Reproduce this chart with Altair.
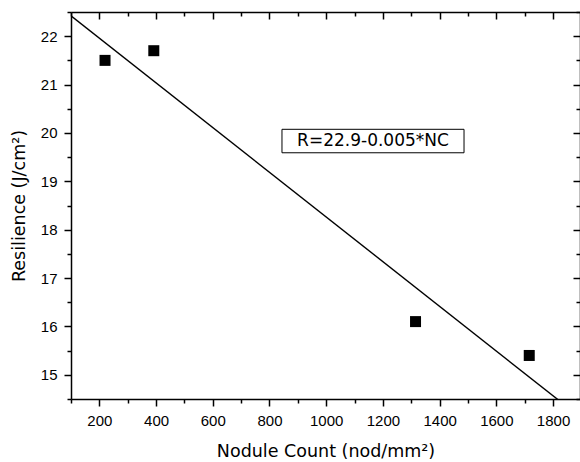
import altair as alt
import pandas as pd

# ---- data ----
nodule_count = [220, 392, 1315, 1716]
resilience = [21.5, 21.7, 16.1, 15.4]

x_major = [200, 400, 600, 800, 1000, 1200, 1400, 1600, 1800]
x_minor = [100, 300, 500, 700, 900, 1100, 1300, 1500, 1700]
y_major = [15, 16, 17, 18, 19, 20, 21, 22]
y_minor = [14.5, 15.5, 16.5, 17.5, 18.5, 19.5, 20.5, 21.5, 22.5]

x_domain = [100, 1895]
y_domain = [14.5, 22.5]

annotation = ["R=22.9-0.005*NC"]

W, H = 509, 387

df = pd.DataFrame({"nc": nodule_count, "r": resilience})
ann = pd.DataFrame({"t": annotation})

xs = alt.Scale(domain=x_domain, nice=False, zero=False)
ys = alt.Scale(domain=y_domain, nice=False, zero=False)

MAJ, MIN = 7, 4


def axis(values, orient, size, offset=0, domain=False, labels=False, title=None, **kw):
    return alt.Axis(values=values, orient=orient, tickSize=size, offset=offset,
                    domain=domain, labels=labels, title=title, grid=False, **kw)


bottom_major = axis(x_major, "bottom", MAJ, domain=True, labels=True, format="d",
                    labelPadding=7, title="Nodule Count (nod/mm²)", titlePadding=14)
left_major = axis(y_major, "left", MAJ, domain=True, labels=True, format="d",
                  labelPadding=7, title="Resilience (J/cm²)", titlePadding=12)
bottom_minor = axis(x_minor, "bottom", MIN)
left_minor = axis(y_minor, "left", MIN)
top_major = axis(x_major, "bottom", MAJ, offset=-H, domain=True)
right_major = axis(y_major, "left", MAJ, offset=-W, domain=True)
top_minor = axis(x_minor, "bottom", MIN, offset=-H)
right_minor = axis(y_minor, "left", MIN, offset=-W)

box = alt.Chart(ann).mark_rect(fill="white", stroke="black", strokeWidth=1).encode(
    x=alt.X(datum=844, type="quantitative", scale=xs, axis=top_major),
    x2=alt.X2(datum=1486),
    y=alt.Y(datum=20.075, type="quantitative", scale=ys, axis=right_major),
    y2=alt.Y2(datum=19.59),
)

label = alt.Chart(ann).mark_text(font="DejaVu Sans", fontSize=17, align="center",
                                 baseline="middle", color="black").encode(
    x=alt.X(datum=1165, type="quantitative", scale=xs, axis=top_minor),
    y=alt.Y(datum=19.83, type="quantitative", scale=ys, axis=right_minor),
    text="t:N",
)

fit = alt.Chart(df).transform_regression("nc", "r", extent=x_domain).mark_line(
    color="black", strokeWidth=1.4, clip=True).encode(
    x=alt.X("nc:Q", scale=xs, axis=bottom_minor),
    y=alt.Y("r:Q", scale=ys, axis=left_minor),
)

points = alt.Chart(df).mark_square(size=121, color="black", opacity=1).encode(
    x=alt.X("nc:Q", scale=xs, axis=bottom_major),
    y=alt.Y("r:Q", scale=ys, axis=left_major),
)

chart = alt.layer(box, label, fit, points).resolve_axis(
    x="independent", y="independent"
).properties(
    width=W, height=H,
    padding={"left": 71, "top": 12, "right": 0, "bottom": 63},
    autosize=alt.AutoSizeParams(type="none"),
    background="white",
).configure_view(stroke=None).configure_axis(
    labelFont="Liberation Sans", labelFontSize=15, labelColor="black",
    titleFont="DejaVu Sans", titleFontSize=17.5, titleFontWeight="normal", titleColor="black",
    domainColor="black", tickColor="black", domainWidth=1.5, tickWidth=1.5,
)

chart.save("out.html", embed_options={"renderer": "svg", "actions": False})
